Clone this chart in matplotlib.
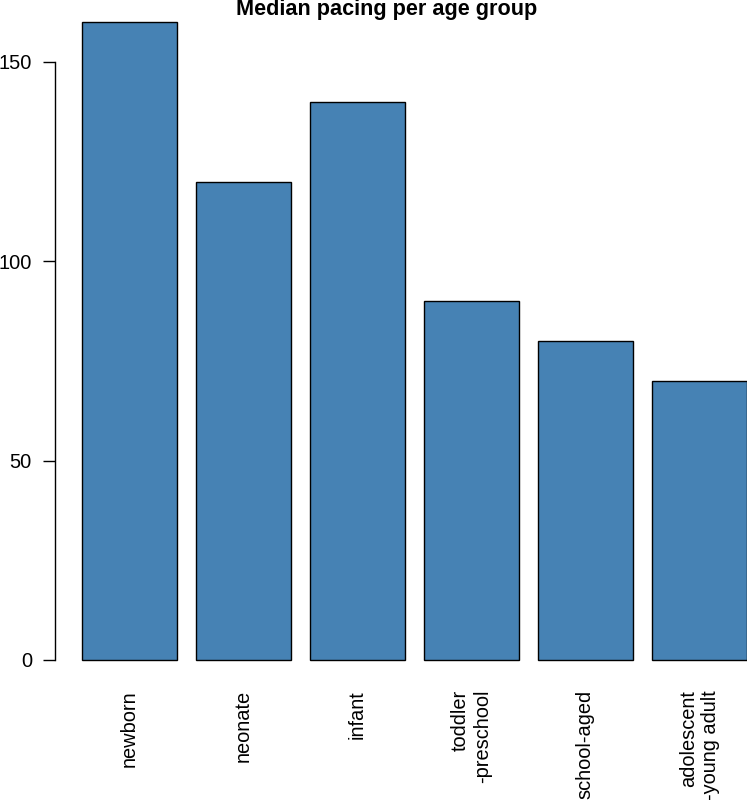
import matplotlib.pyplot as plt
import numpy as np

plt.rcParams['font.family'] = ['Liberation Sans', 'DejaVu Sans']

# data
groups = ["newborn", "neonate", "infant", "toddler\n-preschool", "school-aged", "adolescent\n-young adult"]
median_pacing = [160, 120, 140, 90, 80, 70]
y_ticks = [0, 50, 100, 150]

W, H = 747, 800
fig = plt.figure(figsize=(W / 100, H / 100), dpi=100)

# R style barplot geometry: width 1, space 0.2
x = 0.2 + np.arange(len(groups)) * 1.2 + 0.5
left_px, bottom_px, top_px = 55, 685.5, -3.4
ax = fig.add_axes([left_px / W, (H - bottom_px) / H, (W - left_px) / W, (bottom_px - top_px) / H])

ax.bar(x, median_pacing, width=1.0, color='#4682B4', edgecolor='black', linewidth=1.0)
ax.set_xlim(-0.08, 7.2)
ax.set_ylim(-6.4, 166.4)

for side in ['top', 'right', 'bottom']:
    ax.spines[side].set_visible(False)
ax.spines['left'].set_bounds(0, 150)
ax.spines['left'].set_linewidth(1.0)

ax.set_yticks(y_ticks)
ax.set_yticklabels([str(v) for v in y_ticks], fontsize=14.4)
ax.tick_params(axis='y', length=8.6, width=1.0, pad=8)

ax.set_xticks(x)
ax.set_xticklabels(groups, rotation=90, fontsize=14.4, va='top', ha='center', multialignment='right')
ax.tick_params(axis='x', length=0, pad=3.2)

fig.text(387 / W, 1 - 10 / H, "Median pacing per age group", ha='center', va='center',
         fontsize=15.6, fontweight='bold')

fig.savefig('out.png', dpi=100)
